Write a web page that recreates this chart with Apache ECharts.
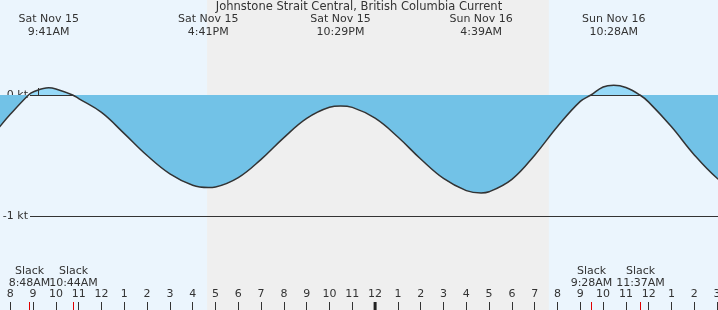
<!DOCTYPE html>
<html><head><meta charset="utf-8">
<script src="https://cdn.jsdelivr.net/npm/echarts@6/dist/echarts.min.js"></script>
<style>html,body{margin:0;padding:0;background:#ebf5fd}#c{width:718px;height:310px}</style>
</head><body><div id="c"></div>
<script>
const chartTitle = 'Johnstone Strait Central, British Columbia Current';
// hours since Sat Nov 15 00:00, current speed in knots (negative = ebb)
const times  = [7.5, 8, 8.8, 9, 9.683, 10, 10.733, 11, 12, 13, 14, 15, 16, 16.683, 17, 18, 19, 20, 21, 22, 22.483, 23, 24, 25, 26, 27, 28, 28.65, 29, 30, 31, 32, 33, 33.467, 34, 34.467, 35, 35.617, 36, 37, 38, 39, 39.5];
const speeds = [-0.27, -0.16, 0, 0.025, 0.06, 0.05, 0, -0.03, -0.144, -0.319, -0.50, -0.652, -0.746, -0.765, -0.76, -0.683, -0.532, -0.352, -0.193, -0.101, -0.09, -0.102, -0.192, -0.347, -0.529, -0.69, -0.79, -0.81, -0.80, -0.697, -0.497, -0.26, -0.053, 0, 0.066, 0.08, 0.062, 0, -0.059, -0.263, -0.495, -0.688, -0.74];
const extremaTimes  = [9.683, 16.683, 22.483, 28.65, 34.467];
const extremaLabels = ['Sat Nov 15\n9:41AM', 'Sat Nov 15\n4:41PM', 'Sat Nov 15\n10:29PM', 'Sun Nov 16\n4:39AM', 'Sun Nov 16\n10:28AM'];
const slackTimes  = [8.8, 10.733, 33.467, 35.617];
const slackLabels = ['Slack\n8:48AM', 'Slack\n10:44AM', 'Slack\n9:28AM', 'Slack\n11:37AM'];
const nightSpan = [16.63, 31.62];   // sunset Sat, sunrise Sun
const midnight = [24];
const nowTime = [9.23];
const hourLabels = ['7','8','9','10','11','12','1','2','3','4','5','6','7','8','9','10','11','12','1','2','3','4','5','6','7','8','9','10','11','12','1','2','3','4'];
const yTicks = [-2, -1, 0, 1];

const FONT = '"DejaVu Sans", sans-serif';
const TXT = '#333';
const FLOOD = '#96d9f8', EBB = '#72c2e7';
const xMin = 7, xMax = 40;
const gLeft = -12.5, gRight = -21.9;

const chart = echarts.init(document.getElementById('c'), null, {renderer: 'canvas'});
const series = [];
const base = {coordinateSystem: 'cartesian2d', xAxisIndex: 0, yAxisIndex: 0, silent: true};
const pairs = times.map((t, i) => [t, speeds[i]]);
const floodPairs = times.map((t, i) => [t, Math.max(0, speeds[i])]);
// night band
series.push(Object.assign({}, base, {
  type: 'custom', z: 0.5,
  data: [nightSpan],
  encode: {x: [0, 1]},
  renderItem: (p, api) => {
    const x1 = api.coord([api.value(0), 0])[0];
    const x2 = api.coord([api.value(1), 0])[0];
    return {type: 'rect', shape: {x: x1, y: 0, width: x2 - x1, height: 310}, style: {fill: '#efefef'}};
  }
}));
// area fill (ebb)
series.push(Object.assign({}, base, {
  id: 'area', type: 'line', z: 2,
  data: pairs,
  smooth: 0.4, symbol: 'none',
  lineStyle: {width: 0},
  areaStyle: {opacity: 1, origin: 0, color: EBB}
}));
// area fill (flood, above zero)
series.push(Object.assign({}, base, {
  type: 'line', z: 2.5,
  data: floodPairs,
  smooth: 0.4, symbol: 'none',
  lineStyle: {width: 0},
  areaStyle: {opacity: 1, origin: 0, color: FLOOD}
}));
// curve stroke
series.push(Object.assign({}, base, {
  type: 'line', z: 3,
  data: pairs,
  smooth: 0.4, symbol: 'none',
  lineStyle: {width: 1.5, color: '#333'}
}));
// extrema labels (top)
series.push(Object.assign({}, base, {
  type: 'custom', z: 5,
  data: extremaTimes.map(t => [t, 0]),
  renderItem: (p, api) => {
    const x = api.coord([api.value(0), 0])[0];
    return {type: 'text', style: {text: extremaLabels[p.dataIndex], x: x, y: 13, align: 'center', verticalAlign: 'top',
      fontSize: 11, fontFamily: FONT, fill: TXT, lineHeight: 13}};
  }
}));
// slack labels and red ticks
series.push(Object.assign({}, base, {
  type: 'custom', z: 5,
  data: slackTimes.map(t => [t, 0]),
  renderItem: (p, api) => {
    const x = Math.round(api.coord([api.value(0), 0])[0]) + 0.5;
    return {type: 'group', children: [
      {type: 'text', style: {text: slackLabels[p.dataIndex], x: x, y: 265, align: 'center', verticalAlign: 'top',
        fontSize: 11, fontFamily: FONT, fill: TXT, lineHeight: 12}},
      {type: 'line', shape: {x1: x, y1: 302, x2: x, y2: 310}, style: {stroke: '#e00000', lineWidth: 1}}
    ]};
  }
}));
// midnight bold tick
series.push(Object.assign({}, base, {
  type: 'custom', z: 5,
  data: midnight.map(t => [t, 0]),
  renderItem: (p, api) => {
    const x = api.coord([api.value(0), 0])[0];
    return {type: 'rect', shape: {x: x - 1.5, y: 302, width: 3, height: 8}, style: {fill: '#222'}};
  }
}));
// now marker
series.push(Object.assign({}, base, {
  type: 'custom', z: 5,
  data: nowTime.map(t => [t, 0]),
  renderItem: (p, api) => {
    const c = api.coord([api.value(0), 0]);
    const x = Math.round(c[0]) + 0.5;
    return {type: 'line', shape: {x1: x, y1: c[1] - 7, x2: x, y2: c[1] + 1}, style: {stroke: '#333', lineWidth: 1}};
  }
}));
// dummy series for grids 1 and 2
series.push({type: 'line', xAxisIndex: 1, yAxisIndex: 1, data: [], silent: true});
series.push({type: 'line', xAxisIndex: 2, yAxisIndex: 2, data: [], silent: true});

const gridCommon = {containLabel: false, outerBoundsMode: 'none'};
chart.setOption({
  backgroundColor: '#ebf5fd',
  animation: false,
  title: {text: chartTitle, left: 'center', top: 1, padding: 0, textStyle: {fontSize: 11.5, fontWeight: 'normal', color: TXT, fontFamily: FONT}},
  grid: [
    Object.assign({left: gLeft, right: gRight, top: -26, bottom: -27}, gridCommon),
    Object.assign({left: 30, right: 0, top: -26, bottom: -27}, gridCommon),
    Object.assign({left: gLeft, right: gRight, top: 0, bottom: 0}, gridCommon)
  ],
  xAxis: [
    {type: 'value', gridIndex: 0, min: xMin, max: xMax, show: false},
    {type: 'value', gridIndex: 1, min: 0, max: 1, show: false},
    {type: 'value', gridIndex: 2, min: xMin, max: xMax, interval: 1, z: 4,
      axisLine: {show: false}, splitLine: {show: false},
      axisTick: {show: true, inside: true, length: 8, interval: 0, lineStyle: {color: '#333'}},
      axisLabel: {inside: true, margin: 10, interval: 0, fontSize: 11, fontFamily: FONT, color: TXT,
        formatter: v => hourLabels[Math.round(v) - xMin] || ''}}
  ],
  yAxis: [
    {type: 'value', gridIndex: 0, min: yTicks[0], max: yTicks[yTicks.length - 1], show: false},
    {type: 'value', gridIndex: 1, min: yTicks[0], max: yTicks[yTicks.length - 1], interval: 1, z: 1,
      axisLine: {show: false}, axisTick: {show: false},
      splitLine: {show: true, lineStyle: {color: '#333', width: 1}},
      axisLabel: {margin: 2, fontSize: 11, fontFamily: FONT, color: TXT, formatter: v => v + ' kt'}},
    {type: 'value', gridIndex: 2, min: 0, max: 1, show: false}
  ],
  series: series
});
// two-tone fill under the full curve: split at the zero line, located through the library's own scale
let zeroY = chart.convertToPixel({gridIndex: 0}, [xMin, 0]);
zeroY = Array.isArray(zeroY) ? zeroY[1] : NaN;
const H = chart.getHeight();
if (isFinite(zeroY)) {
  const f = Math.max(0, Math.min(1, zeroY / H));
  chart.setOption({series: [{id: 'area', areaStyle: {opacity: 1, origin: 0, color: {
    type: 'linear', x: 0, y: 0, x2: 0, y2: H, global: true,
    colorStops: [{offset: 0, color: FLOOD}, {offset: f, color: FLOOD}, {offset: f, color: EBB}, {offset: 1, color: EBB}]}}}]});
}
</script></body></html>
